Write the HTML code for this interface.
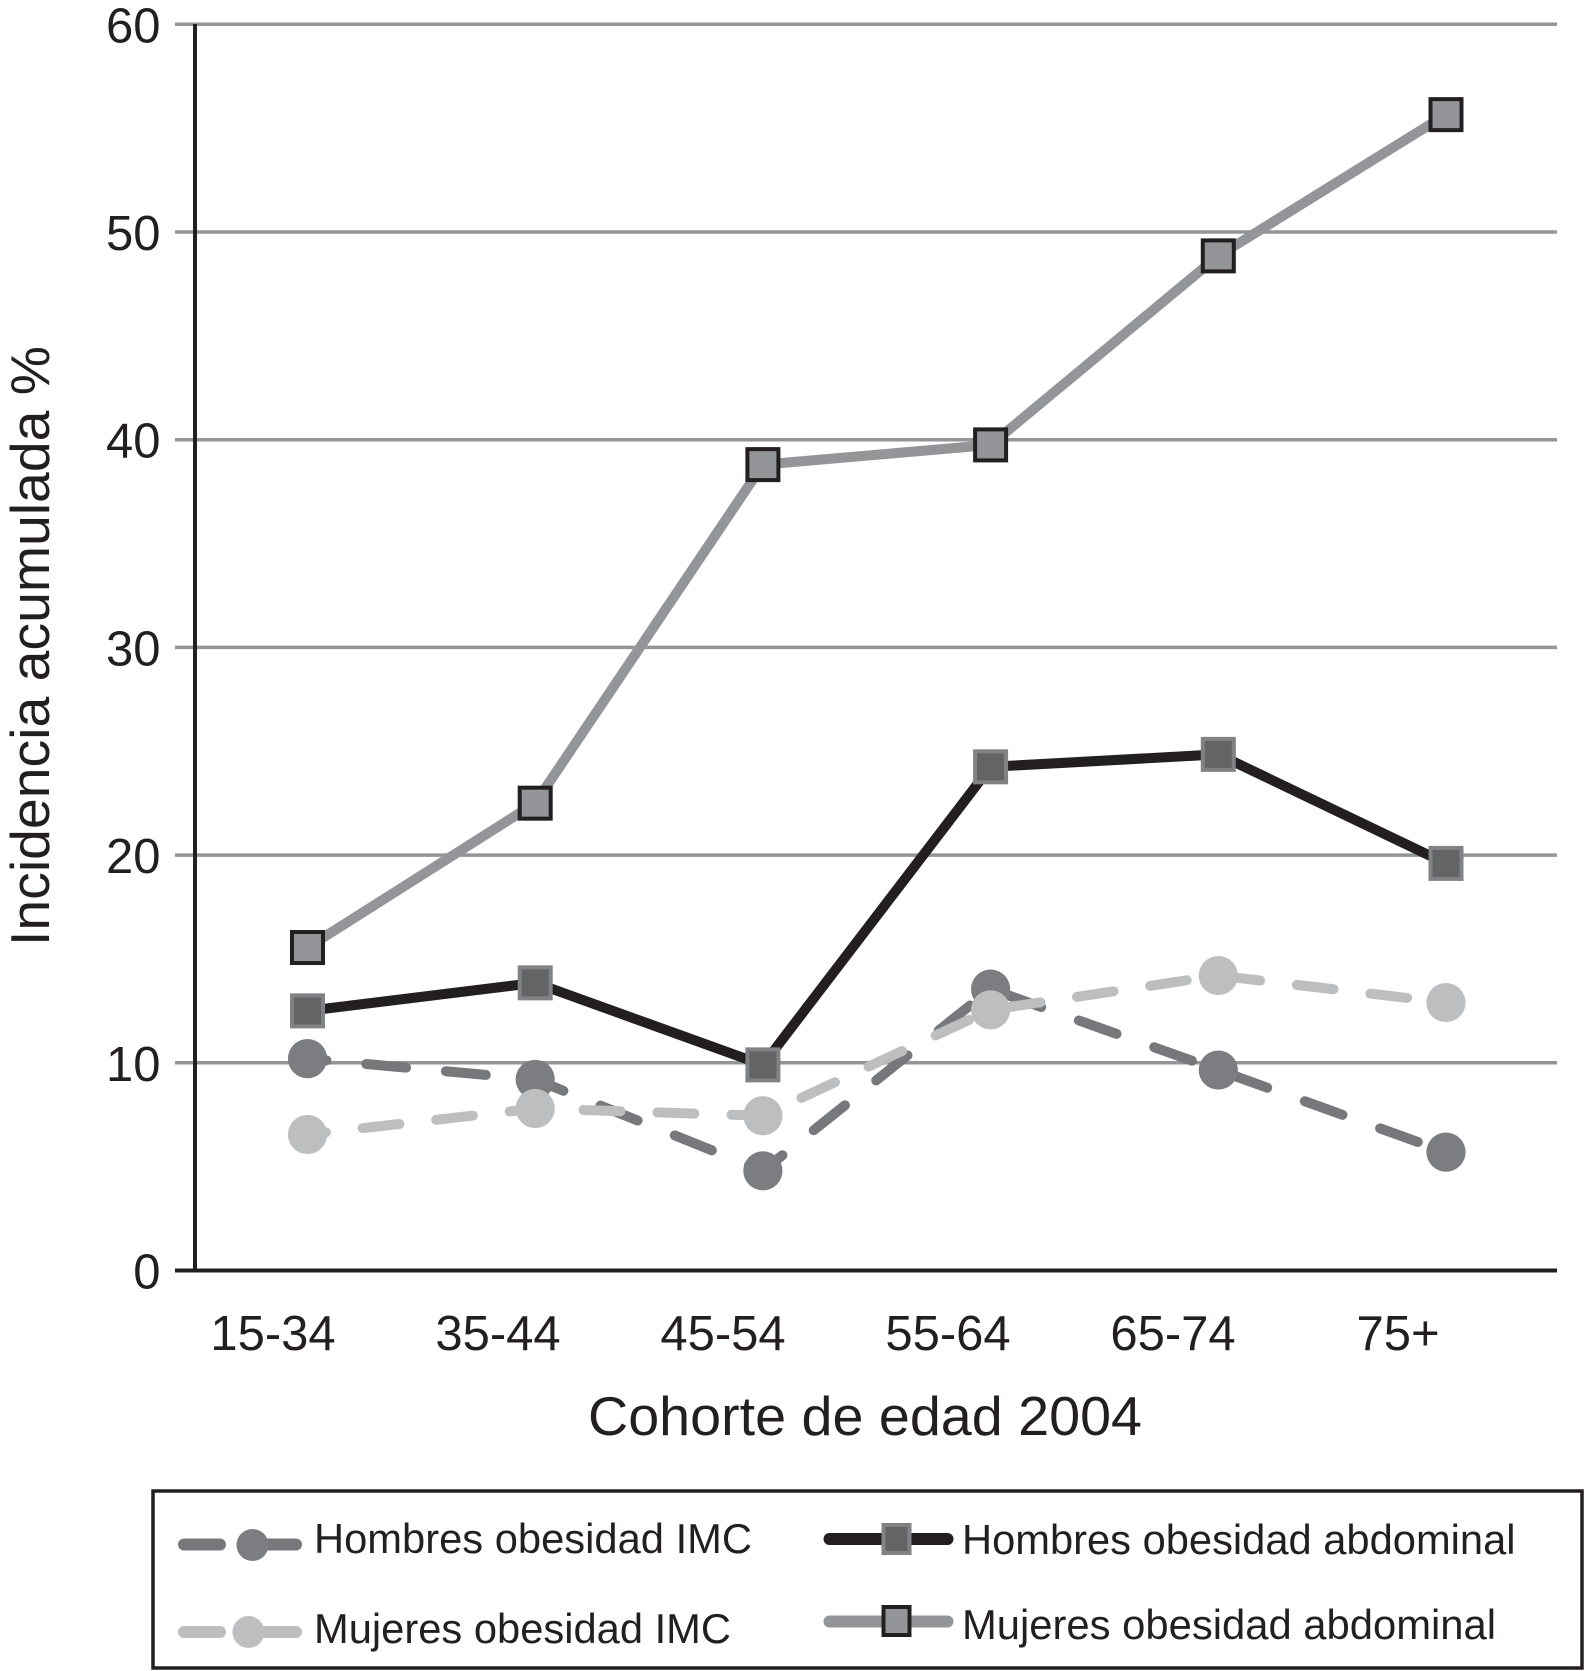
<!DOCTYPE html>
<html lang="es">
<head>
<meta charset="utf-8">
<title>Incidencia acumulada por cohorte de edad</title>
<style>
html,body{margin:0;padding:0;background:#fff;}
svg{display:block;}
text{font-family:"Liberation Sans",Arial,sans-serif;fill:#231f20;}
</style>
</head>
<body>
<svg id="chart" xmlns="http://www.w3.org/2000/svg" width="1584" height="1671" viewBox="0 0 1584 1671">
  <rect x="0" y="0" width="1584" height="1671" fill="#ffffff"/>
  <g id="grid"></g>
  <g id="yticks"></g>
  <g id="xticks"></g>
  <line x1="195" y1="24" x2="195" y2="1271" stroke="#231f20" stroke-width="4"/>
  <g id="series"></g>
  <text transform="translate(49,946) rotate(-90)" font-size="55" textLength="600" lengthAdjust="spacingAndGlyphs">Incidencia acumulada %</text>
  <text x="588" y="1435" font-size="55" textLength="554" lengthAdjust="spacingAndGlyphs">Cohorte de edad 2004</text>

  <g>
    <rect x="153" y="1491" width="1429" height="177" fill="#ffffff" stroke="#231f20" stroke-width="3.5"/>

    <g>
      <line x1="184" y1="1544.5" x2="220" y2="1544.5" stroke="#77787b" stroke-width="12" stroke-linecap="round"/>
      <line x1="255" y1="1544.5" x2="296" y2="1544.5" stroke="#77787b" stroke-width="12" stroke-linecap="round"/>
      <circle cx="252.5" cy="1545" r="16" fill="#7b7d80"/>
      <text x="314" y="1553" font-size="42" textLength="438" lengthAdjust="spacingAndGlyphs">Hombres obesidad IMC</text>
    </g>
    <g>
      <line x1="184" y1="1632" x2="220" y2="1632" stroke="#bcbec0" stroke-width="12" stroke-linecap="round"/>
      <line x1="250" y1="1632" x2="296" y2="1632" stroke="#bcbec0" stroke-width="12" stroke-linecap="round"/>
      <circle cx="248.5" cy="1632" r="16" fill="#bcbec0"/>
      <text x="314" y="1643" font-size="42" textLength="417" lengthAdjust="spacingAndGlyphs">Mujeres obesidad IMC</text>
    </g>
    <g>
      <line x1="829.5" y1="1539" x2="947.5" y2="1539" stroke="#231f20" stroke-width="12" stroke-linecap="round"/>
      <rect x="883.5" y="1525" width="26" height="28" fill="#636466" stroke="#808285" stroke-width="4"/>
      <text x="962" y="1554" font-size="42" textLength="553.5" lengthAdjust="spacingAndGlyphs">Hombres obesidad abdominal</text>
    </g>
    <g>
      <line x1="829.5" y1="1621.5" x2="947.5" y2="1621.5" stroke="#939598" stroke-width="12" stroke-linecap="round"/>
      <rect x="883.5" y="1607" width="26" height="28" fill="#939598" stroke="#231f20" stroke-width="4"/>
      <text x="962" y="1639" font-size="42" textLength="534" lengthAdjust="spacingAndGlyphs">Mujeres obesidad abdominal</text>
    </g>
  </g>
</svg>

<script>
const categories = ["15-34", "35-44", "45-54", "55-64", "65-74", "75+"];
const yTicks = [0, 10, 20, 30, 40, 50, 60];
const hombresImc = [10.2, 9.2, 4.8, 13.55, 9.65, 5.7];
const mujeresImc = [6.55, 7.8, 7.45, 12.55, 14.2, 12.9];
const hombresAbdominal = [12.5, 13.85, 9.9, 24.25, 24.85, 19.6];
const mujeresAbdominal = [15.55, 22.5, 38.8, 39.75, 48.85, 55.65];

const NS = "http://www.w3.org/2000/svg";
function make(parent, tag, attrs) {
  const el = document.createElementNS(NS, tag);
  for (const k in attrs) el.setAttribute(k, attrs[k]);
  parent.appendChild(el);
  return el;
}
function yScale(v) { return 1270.5 - (v / 60) * 1246.2; }
function xScale(i) { return 307.5 + 227.7 * i; }
function labelX(i) { return 273 + 225 * i; }

const gridG = document.getElementById("grid");
const yTickG = document.getElementById("yticks");
const xTickG = document.getElementById("xticks");
const seriesG = document.getElementById("series");

yTicks.forEach(function (t) {
  const ln = make(gridG, "line", { x1: 175, x2: 1557, y1: yScale(t), y2: yScale(t), stroke: t === 0 ? "#231f20" : "#939598", "stroke-width": t === 0 ? 4 : 3.5 });
  
  
  const tx = make(yTickG, "text", { x: 160.5, y: yScale(t) + 18, "font-size": 49, "text-anchor": "end" });
  tx.textContent = String(t);
  
  
});

categories.forEach(function (c, i) {
  const tx = make(xTickG, "text", { x: labelX(i), y: 1350, "font-size": 49, "text-anchor": "middle" });
  tx.textContent = c;
  
  
});

function pointsOf(values) {
  return values.map(function (v, i) { return xScale(i) + "," + yScale(v); }).join(" ");
}

function drawCircleSeries(values, lineColor, markerColor, dash, offset) {
  const g = make(seriesG, "g", {});
  
  
  const pl = make(g, "polyline", { points: pointsOf(values), fill: "none", stroke: lineColor, "stroke-width": 10, "stroke-linecap": "round", "stroke-linejoin": "round", "stroke-dasharray": dash, "stroke-dashoffset": offset });
  
  
  values.forEach(function (v, i) {
    const c = make(g, "circle", { cx: xScale(i), cy: yScale(v), r: 19.6, fill: markerColor });
    
    
  });
}

function drawSquareSeries(values, lineColor, fillColor, strokeColor) {
  const g = make(seriesG, "g", {});
  
  
  const pl = make(g, "polyline", { points: pointsOf(values), fill: "none", stroke: lineColor, "stroke-width": 10, "stroke-linejoin": "miter" });
  
  
  values.forEach(function (v, i) {
    const r = make(g, "rect", { x: xScale(i) - 15.5, y: yScale(v) - 15.5, width: 31, height: 31, fill: fillColor, stroke: strokeColor, "stroke-width": 4 });
    
    
  });
}

drawCircleSeries(hombresImc, "#77787b", "#7b7d80", "40 40", 21);
drawCircleSeries(mujeresImc, "#bcbec0", "#bcbec0", "37 37", 18.5);
drawSquareSeries(hombresAbdominal, "#231f20", "#636466", "#808285");
drawSquareSeries(mujeresAbdominal, "#939598", "#939598", "#231f20");
</script>
</body>
</html>
